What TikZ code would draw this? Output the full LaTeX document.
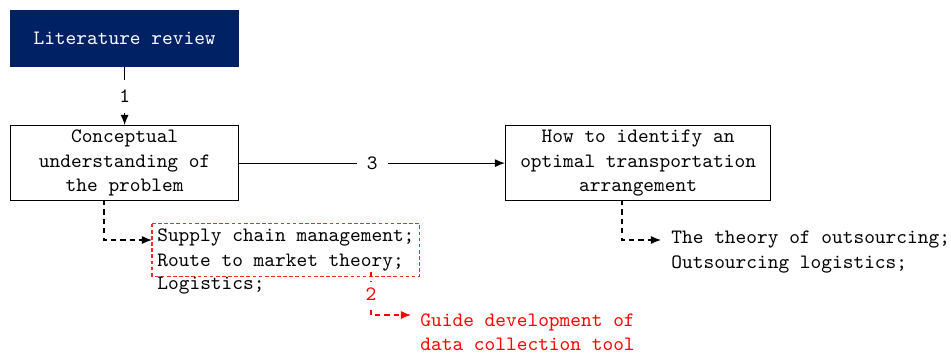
\documentclass[tikz,border=0pt]{standalone}
\usetikzlibrary{arrows.meta,positioning}
\definecolor{navy}{RGB}{0,33,99}
\definecolor{boxred}{RGB}{255,40,40}
\begin{document}
\begin{tikzpicture}[x=0.49pt,y=-0.49pt,font=\ttfamily,
  box/.style={draw,line width=0.6pt,align=center,minimum width=228*0.49pt,inner sep=0pt},
  arr/.style={-{Latex[length=5pt,width=4pt]},line width=0.6pt},
  dsh/.style={dash pattern=on 2.6pt off 2pt},
  redbox/.style={draw=boxred,dash pattern=on 1.8pt off 1.2pt,line width=0.7pt},
  txt/.style={align=left,anchor=north west,inner sep=0pt}]
\useasboundingbox (0,0) rectangle (951,357);
\node[box,fill=navy,draw=navy,text=white,minimum height=56*0.49pt,anchor=north west] (lit) at (10,10) {Literature review};
\node[box,minimum height=75*0.49pt,anchor=north west] (con) at (10,125) {Conceptual\\understanding of\\the problem};
\node[box,minimum width=265*0.49pt,minimum height=75*0.49pt,anchor=north west] (how) at (505,125) {How to identify an\\optimal transportation\\arrangement};
\draw[arr] (lit) -- node[fill=white,inner xsep=2pt,inner ysep=5pt] (l1) {1} (con);
\draw[arr] (con) -- node[fill=white,inner xsep=5pt] (l3) {3} (how);
\node[txt,inner sep=2.4pt,anchor=west] (sc) at (152,250) {Supply chain management;\\Route to market theory;};
\draw[redbox] (sc.north west) rectangle (sc.south east);
\node[txt,anchor=north west] (lg) at (157,277) {Logistics;};
\coordinate (c1) at (104,200);
\draw[arr,dsh] (c1) |- (sc.west |- 0,240);
\node[txt,text=red,anchor=west] (gd) at (420,332) {Guide development of\\data collection tool};
\coordinate (c2) at (371,272);
\coordinate (g2) at (411,315);
\draw[arr,dsh,red] (c2) |- node[pos=0.26,fill=white,inner xsep=1pt,inner ysep=3pt,text=red] (l2) {2} (g2);
\node[txt,anchor=west] (out) at (671,252) {The theory of outsourcing;\\Outsourcing logistics;};
\coordinate (c3) at (622,200);
\coordinate (o2) at (661,240);
\draw[arr,dsh] (c3) |- (o2);
\end{tikzpicture}
\end{document}
